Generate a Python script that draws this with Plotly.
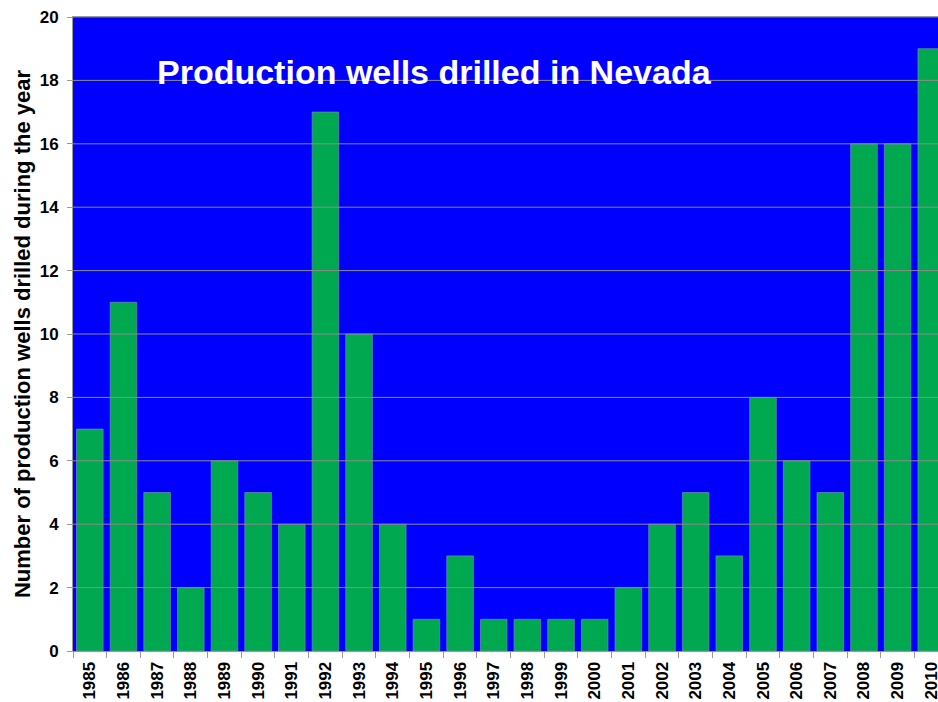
import plotly.graph_objects as go

years = [str(y) for y in range(1985, 2011)]
wells = [7, 11, 5, 2, 6, 5, 4, 17, 10, 4, 1, 3, 1, 1, 1, 1, 2, 4, 5, 3, 8, 6, 5, 16, 16, 19]
y_ticks = list(range(0, 21, 2))

fig = go.Figure(go.Bar(
    x=years, y=wells,
    marker=dict(color="#00A84F", line=dict(color="#6f8f9f", width=0.7)),
    width=0.79,
))

# gridlines drawn above the bars, as in the original
for t in y_ticks[1:]:
    fig.add_shape(type="line", xref="paper", yref="y", x0=0, x1=1, y0=t, y1=t,
                  line=dict(color="#8c8c8c", width=1), layer="above")

fig.add_annotation(text="<b>Production wells drilled in Nevada</b>", xref="paper", yref="paper",
                   x=0.418, y=0.947, showarrow=False,
                   font=dict(family="Arial, Liberation Sans", size=34, color="white"))

fig.update_layout(
    width=938, height=702,
    margin=dict(l=73, r=0, t=17, b=51),
    paper_bgcolor="white", plot_bgcolor="#0000FF",
    font=dict(family="Arial, Liberation Sans", color="black"),
    showlegend=False,
    xaxis=dict(range=[-0.5, 25.2], tickangle=-90, tickson="boundaries", ticks="outside",
               ticklen=6, tickcolor="#999999", showline=True, linecolor="#999999", mirror=True,
               tickfont=dict(size=17, weight="bold"), ticklabelstandoff=3, automargin=False,
               showgrid=False),
    yaxis=dict(range=[0, 20], tickvals=y_ticks, ticks="outside", ticklen=5, tickcolor="#999999",
               showline=True, linecolor="#999999", showgrid=False, zeroline=False,
               tickfont=dict(size=17, weight="bold"), ticklabelstandoff=5, automargin=False,
               title=dict(text="Number of production wells drilled during the year",
                          font=dict(size=22, weight="bold"), standoff=2)),
)

# page has a default 8px body margin; remove it so the figure fills the window
fig.write_html("out.html", config={"displayModeBar": False},
               post_script="document.body.style.margin='0';document.body.style.overflow='hidden';")
